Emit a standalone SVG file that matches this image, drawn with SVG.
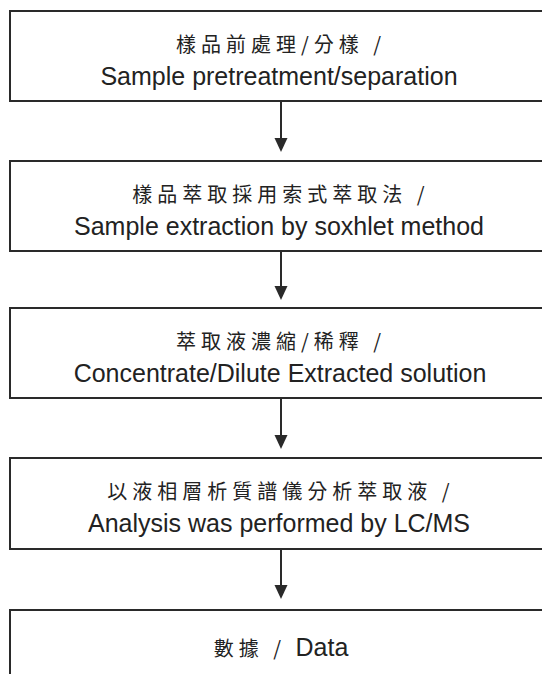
<svg xmlns="http://www.w3.org/2000/svg" width="542" height="674" viewBox="0 0 542 674">
<defs>
<style>
.box{fill:#fff;stroke:#2a2a2a;stroke-width:2}
.zh{font-family:"Noto Sans CJK TC","Noto Sans CJK SC",sans-serif;font-size:20px;letter-spacing:5px;fill:#222;text-anchor:middle}
.en{font-family:"Liberation Sans",Arial,sans-serif;font-size:25px;fill:#222;text-anchor:middle}
.conn{stroke:#2a2a2a;stroke-width:2;fill:none}
.head{fill:#2a2a2a}
</style>
</defs>
<rect width="542" height="674" fill="#fff"/>
<g id="n1">
<rect class="box" x="10" y="11" width="540" height="90"/>
<text class="zh" x="281" y="52">樣品前處理/分樣 /</text>
<text class="en" x="279" y="85">Sample pretreatment/separation</text>
</g>
<g id="n2">
<rect class="box" x="10" y="161" width="540" height="90"/>
<text class="zh" x="281" y="202">樣品萃取採用索式萃取法 /</text>
<text class="en" x="279" y="235">Sample extraction by soxhlet method</text>
</g>
<g id="n3">
<rect class="box" x="10" y="308" width="540" height="90"/>
<text class="zh" x="281" y="349">萃取液濃縮/稀釋 /</text>
<text class="en" x="280" y="382">Concentrate/Dilute Extracted solution</text>
</g>
<g id="n4">
<rect class="box" x="10" y="458" width="540" height="91"/>
<text class="zh" x="281" y="499">以液相層析質譜儀分析萃取液 /</text>
<text class="en" x="279" y="532">Analysis was performed by LC/MS</text>
</g>
<g id="n5">
<rect class="box" x="10" y="610" width="540" height="80"/>
<text x="281" y="656" style="font-size:25px;fill:#222;text-anchor:middle"><tspan style="font-family:'Noto Sans CJK TC',sans-serif;font-size:20px;letter-spacing:5px">數據 / </tspan><tspan style="font-family:'Liberation Sans',Arial,sans-serif">Data</tspan></text>
</g>
<g id="connectors">
<line class="conn" x1="281" y1="101" x2="281" y2="140"/>
<polygon class="head" points="274.5,138 287.5,138 281,152"/>
<line class="conn" x1="281" y1="251" x2="281" y2="288"/>
<polygon class="head" points="274.5,286 287.5,286 281,300"/>
<line class="conn" x1="281" y1="398" x2="281" y2="437"/>
<polygon class="head" points="274.5,435 287.5,435 281,449"/>
<line class="conn" x1="281" y1="549" x2="281" y2="587"/>
<polygon class="head" points="274.5,585 287.5,585 281,599"/>
</g>
</svg>
